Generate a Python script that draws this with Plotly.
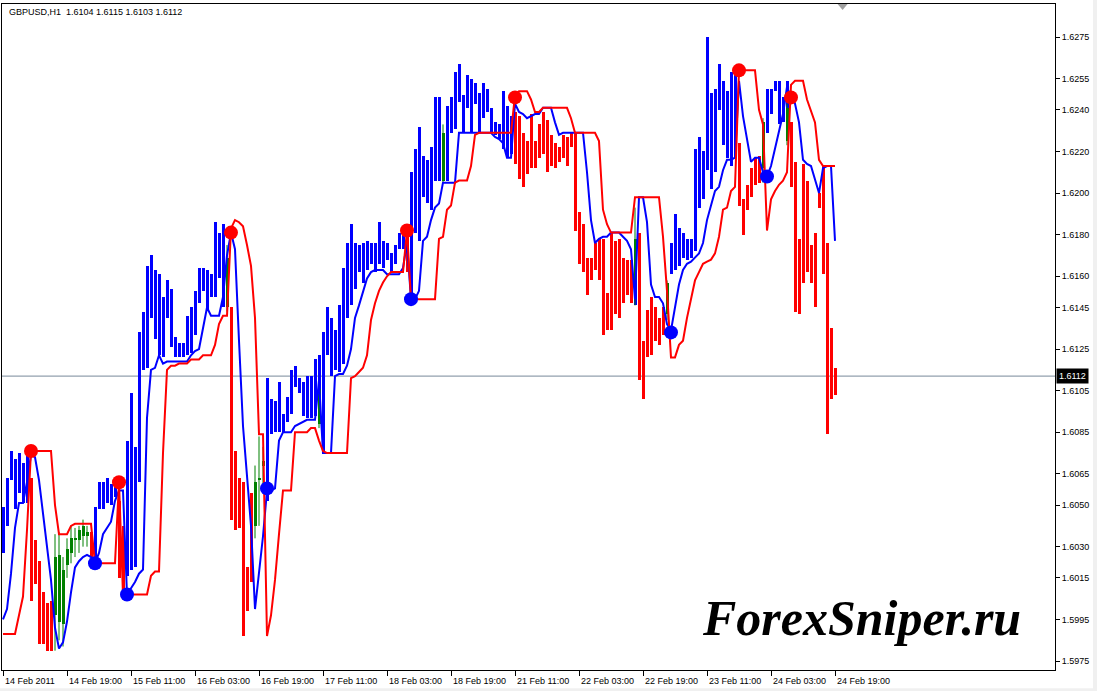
import plotly.graph_objects as go

# ---------------- data ----------------
symbol_title = "GBPUSD,H1  1.6104 1.6115 1.6103 1.6112"
last_price = 1.6112

tick_labels = ["14 Feb 2011", "14 Feb 19:00", "15 Feb 11:00", "16 Feb 03:00", "16 Feb 19:00",
               "17 Feb 11:00", "18 Feb 03:00", "18 Feb 19:00", "21 Feb 11:00", "22 Feb 03:00",
               "22 Feb 19:00", "23 Feb 11:00", "24 Feb 03:00", "24 Feb 19:00"]
tick_bars = [0, 16, 32, 48, 64, 80, 96, 112, 128, 144, 160, 176, 192, 208]

price_ticks = [1.5975, 1.5995, 1.6015, 1.6030, 1.6050, 1.6065, 1.6085, 1.6105, 1.6125,
               1.6145, 1.6160, 1.6180, 1.6200, 1.6220, 1.6240, 1.6255, 1.6275]

# b = blue histogram bar, r = red histogram bar, g = only a green price candle
bar_kind = ("bbbbbbbrrr" "rrrggggggg" "ggrbbbbbbr" "rbbbbbbbbb" "bbbbbbbbbb"
            "bbbbbbgrrr" "rrrgggbbbb" "bbbbbbbbbb" "bbbbbbbbbb" "bbbbbbbbbb"
            "brbbbbbbbb" "gbbbbbbbbb" "bbbbbbbbrr" "rrrrrrrrrr" "rrrrrrrrrr"
            "rrrrrrrrbr" "rrrrrrgbbb" "bbbbbbbbbb" "bbbbrrrrrr" "gbbbbbbrrr"
            "rrrrrrrrr")

bar_top = [
    1.6049, 1.6063, 1.6076, 1.6072, 1.6075, 1.6070, 1.6075, 1.6063, 1.6033, 1.6023,
    1.6008, 1.6003, 1.6004, None, None, None, None, None, None, None,
    None, None, 1.6037, 1.6049, 1.6061, 1.6061, 1.6063, 1.6060, 1.6062, 1.6052,
    1.6040, 1.6081, 1.6104, 1.6078, 1.6133, 1.6143, 1.6165, 1.6170, 1.6163, 1.6161,
    1.6150, 1.6158, 1.6154, 1.6131, 1.6128, 1.6128, 1.6141, 1.6145, 1.6153, 1.6164,
    1.6164, 1.6163, 1.6161, 1.6186, 1.6181, 1.6185, None, 1.6145, 1.6076, 1.6063,
    1.6061, 1.6020, 1.6056, None, None, None, 1.6111, 1.6101, 1.6100, 1.6109,
    1.6094, 1.6102, 1.6115, 1.6117, 1.6111, 1.6109, 1.6112, 1.6112, 1.6120, 1.6122,
    1.6133, 1.6145, 1.6140, 1.6134, 1.6146, 1.6164, 1.6176, 1.6185, 1.6176, 1.6175,
    1.6176, 1.6177, 1.6176, 1.6176, 1.6186, 1.6177, 1.6176, 1.6171, 1.6175, 1.6181,
    1.6180, 1.6179, 1.6210, 1.6221, 1.6232, 1.6218, 1.6216, 1.6222, 1.6246, 1.6246,
    None, 1.6242, 1.6246, 1.6258, 1.6262, 1.6247, 1.6257, 1.6255, 1.6253, 1.6248,
    1.6253, 1.6250, 1.6241, 1.6234, 1.6233, 1.6249, 1.6242, 1.6237, 1.6239, 1.6237,
    1.6229, 1.6225, 1.6238, 1.6225, 1.6233, 1.6239, 1.6235, 1.6228, 1.6224, 1.6222,
    1.6228, 1.6227, 1.6229, 1.6229, 1.6191, 1.6185, 1.6169, 1.6169, 1.6176, 1.6178,
    1.6178, 1.6152, 1.6181, 1.6177, 1.6178, 1.6169, 1.6168, 1.6168, 1.6158, 1.6181,
    1.6129, 1.6144, 1.6150, 1.6145, 1.6140, 1.6145, None, 1.6176, 1.6190, 1.6183,
    1.6181, 1.6178, 1.6178, 1.6221, 1.6227, 1.6220, 1.6275, 1.6248, 1.6250, 1.6262,
    1.6254, 1.6249, 1.6258, 1.6257, 1.6224, 1.6197, 1.6204, 1.6212, 1.6217, 1.6218,
    None, 1.6250, 1.6250, 1.6254, 1.6254, 1.6246, 1.6254, 1.6234, 1.6215, 1.6178,
    1.6214, 1.6206, 1.6175, 1.6181, 1.6200, 1.6213, 1.6176, 1.6135, 1.6116]

bar_bot = [
    1.6027, 1.6040, 1.6062, 1.6048, 1.6056, 1.6051, 1.6051, 1.6004, 1.6012, 1.5983,
    1.5983, 1.5980, 1.5980, None, None, None, None, None, None, None,
    None, None, 1.6025, 1.6024, 1.6048, 1.6048, 1.6051, 1.6050, 1.6054, 1.6015,
    1.6008, 1.6016, 1.6019, 1.6020, 1.6061, 1.6115, 1.6116, 1.6140, 1.6130, 1.6122,
    1.6121, 1.6140, 1.6126, 1.6121, 1.6121, 1.6121, 1.6122, 1.6123, 1.6132, 1.6147,
    1.6153, 1.6144, 1.6150, 1.6150, 1.6159, 1.6145, None, 1.6043, 1.6038, 1.6039,
    1.5987, 1.5999, 1.6013, None, None, None, 1.6052, 1.6084, 1.6085, 1.6085,
    1.6085, 1.6090, 1.6094, 1.6107, 1.6104, 1.6093, 1.6092, 1.6092, 1.6093, 1.6106,
    1.6075, 1.6122, 1.6112, 1.6115, 1.6114, 1.6118, 1.6140, 1.6146, 1.6154, 1.6162,
    1.6157, 1.6163, 1.6166, 1.6162, 1.6166, 1.6164, 1.6168, 1.6162, 1.6166, 1.6173,
    1.6173, 1.6162, 1.6150, 1.6181, 1.6177, 1.6198, 1.6195, 1.6192, 1.6206, 1.6206,
    None, 1.6206, 1.6229, 1.6231, 1.6244, 1.6229, 1.6241, 1.6229, 1.6243, 1.6229,
    1.6236, 1.6239, 1.6229, 1.6228, 1.6226, 1.6221, 1.6217, 1.6219, 1.6214, 1.6207,
    1.6203, 1.6209, 1.6212, 1.6212, 1.6217, 1.6219, 1.6210, 1.6213, 1.6212, 1.6215,
    1.6217, 1.6213, 1.6222, 1.6182, 1.6166, 1.6162, 1.6151, 1.6158, 1.6163, 1.6158,
    1.6132, 1.6134, 1.6134, 1.6142, 1.6140, 1.6147, 1.6151, 1.6147, 1.6146, 1.6110,
    1.6101, 1.6121, 1.6122, 1.6129, 1.6127, 1.6132, None, 1.6161, 1.6163, 1.6165,
    1.6169, 1.6168, 1.6169, 1.6172, 1.6193, 1.6197, 1.6211, 1.6202, 1.6210, 1.6240,
    1.6223, 1.6217, 1.6213, 1.6217, 1.6194, 1.6180, 1.6192, 1.6198, 1.6204, 1.6205,
    None, 1.6229, 1.6238, 1.6249, 1.6233, 1.6234, 1.6241, 1.6203, 1.6143, 1.6142,
    1.6157, 1.6162, 1.6157, 1.6145, 1.6193, 1.6161, 1.6084, 1.6101, 1.6103]

# green price candles that show through
green_bar = [13, 14, 15, 16, 17, 18, 19, 20, 21, 56, 63, 64, 65, 79, 110, 158, 166, 190, 196]
green_top = [1.6025, 1.6026, 1.6019, 1.6029, 1.6034, 1.6034, 1.6038, 1.6040, 1.6037, 1.6169,
             1.6061, 1.6063, 1.6071, 1.6106, 1.6229, 1.6178, 1.6157, 1.6234, 1.6241]
green_bot = [1.5997, 1.5994, 1.5993, 1.6021, 1.6027, 1.6033, 1.6033, 1.6035, 1.6035, 1.6145,
             1.6040, 1.6062, 1.6069, 1.6089, 1.6206, 1.6158, 1.6142, 1.6212, 1.6225]
green_high = [1.6036, 1.6037, 1.6025, 1.6034, 1.6040, 1.6039, 1.6040, 1.6043, 1.6040, 1.6175,
              1.6069, 1.6083, 1.6078, 1.6108, 1.6233, 1.6193, 1.6158, 1.6236, 1.6243]
green_low = [1.5980, 1.5985, 1.5982, 1.6015, 1.6022, 1.6025, 1.6027, 1.6030, 1.6030, 1.6143,
             1.6034, 1.6040, 1.6057, 1.6087, 1.6205, 1.6146, 1.6139, 1.6205, 1.6223]

blue_line = [
    1.5995, 1.6000, 1.6017, 1.6039, 1.6051, 1.6051, 1.6061, 1.6074, 1.6073, 1.6062,
    1.6046, 1.6030, 1.6014, 1.5991, 1.5981, 1.5984, 1.5994, 1.6008, 1.6020, 1.6023,
    1.6025, 1.6026, 1.6025, 1.6022, 1.6027, 1.6036, 1.6039, 1.6042, 1.6052, 1.6057,
    1.6057, 1.6007, 1.6010, 1.6013, 1.6017, 1.6019, 1.6092, 1.6115, 1.6116, 1.6122,
    1.6118, 1.6119, 1.6119, 1.6119, 1.6119, 1.6119, 1.6119, 1.6122, 1.6124, 1.6125,
    1.6136, 1.6145, 1.6141, 1.6141, 1.6141, 1.6150, 1.6170, 1.6181, 1.6173, 1.6129,
    1.6088, 1.6064, 1.6040, 1.6000, 1.6016, 1.6035, 1.6057, 1.6057, 1.6058, 1.6081,
    1.6085, 1.6085, 1.6085, 1.6088, 1.6089, 1.6090, 1.6091, 1.6091, 1.6091, 1.6110,
    1.6075, 1.6075, 1.6075, 1.6112, 1.6113, 1.6113, 1.6117, 1.6125, 1.6140, 1.6146,
    1.6152, 1.6159, 1.6162, 1.6163, 1.6163, 1.6163, 1.6161, 1.6161, 1.6161, 1.6161,
    1.6164, 1.6176, 1.6149, 1.6149, 1.6153, 1.6177, 1.6179, 1.6187, 1.6193, 1.6195,
    1.6205, 1.6205, 1.6205, 1.6205, 1.6229, 1.6229, 1.6229, 1.6229, 1.6229, 1.6229,
    1.6229, 1.6229, 1.6229, 1.6227, 1.6226, 1.6224, 1.6217, 1.6217, 1.6243, 1.6239,
    1.6238, 1.6236, 1.6237, 1.6238, 1.6238, 1.6241, 1.6241, 1.6241, 1.6234, 1.6228,
    1.6229, 1.6229, 1.6229, 1.6229, 1.6229, 1.6229, 1.6210, 1.6187, 1.6176, 1.6178,
    1.6179, 1.6179, 1.6181, 1.6181, 1.6181, 1.6179, 1.6177, 1.6173, 1.6149, 1.6198,
    1.6198, 1.6186, 1.6156, 1.6150, 1.6150, 1.6147, 1.6137, 1.6134, 1.6146, 1.6156,
    1.6163, 1.6166, 1.6167, 1.6169, 1.6171, 1.6176, 1.6187, 1.6194, 1.6201, 1.6203,
    1.6211, 1.6216, 1.6216, 1.6217, 1.6254, 1.6237, 1.6225, 1.6215, 1.6217, 1.6217,
    1.6210, 1.6208, 1.6213, 1.6221, 1.6229, 1.6238, 1.6251, 1.6246, 1.6243, 1.6234,
    1.6216, 1.6214, 1.6213, 1.6206, 1.6200, 1.6212, 1.6213, 1.6213, 1.6177]

red_line = [
    1.5988, 1.5988, 1.5988, 1.5988, 1.5997, 1.6006, 1.6038, 1.6076, 1.6076, 1.6076,
    1.6076, 1.6076, 1.6076, 1.6050, 1.6036, 1.6036, 1.6036, 1.6040, 1.6041, 1.6041,
    1.6041, 1.6041, 1.6041, 1.6022, 1.6022, 1.6022, 1.6022, 1.6022, 1.6022, 1.6061,
    1.6007, 1.6007, 1.6007, 1.6007, 1.6007, 1.6007, 1.6007, 1.6016, 1.6018, 1.6018,
    1.6075, 1.6115, 1.6117, 1.6117, 1.6118, 1.6118, 1.6118, 1.6120, 1.6120, 1.6120,
    1.6122, 1.6122, 1.6122, 1.6127, 1.6137, 1.6141, 1.6141, 1.6183, 1.6187, 1.6186,
    1.6184, 1.6175, 1.6165, 1.6140, 1.6084, 1.6084, 1.5987, 1.5997, 1.6014, 1.6036,
    1.6057, 1.6057, 1.6057, 1.6085, 1.6085, 1.6085, 1.6085, 1.6087, 1.6087, 1.6081,
    1.6076, 1.6075, 1.6075, 1.6075, 1.6075, 1.6075, 1.6075, 1.6111, 1.6112, 1.6114,
    1.6116, 1.6122, 1.6139, 1.6147, 1.6153, 1.6157, 1.6160, 1.6162, 1.6162, 1.6162,
    1.6162, 1.6182, 1.6149, 1.6149, 1.6149, 1.6149, 1.6149, 1.6149, 1.6149, 1.6178,
    1.6179, 1.6192, 1.6194, 1.6205, 1.6206, 1.6206, 1.6206, 1.6213, 1.6228, 1.6229,
    1.6229, 1.6229, 1.6229, 1.6229, 1.6229, 1.6229, 1.6229, 1.6229, 1.6247, 1.6249,
    1.6249, 1.6249, 1.6245, 1.6239, 1.6239, 1.6241, 1.6241, 1.6241, 1.6241, 1.6241,
    1.6241, 1.6241, 1.6236, 1.6229, 1.6229, 1.6229, 1.6229, 1.6229, 1.6229, 1.6225,
    1.6192, 1.6185, 1.6181, 1.6181, 1.6181, 1.6181, 1.6181, 1.6181, 1.6198, 1.6198,
    1.6198, 1.6198, 1.6198, 1.6198, 1.6198, 1.6179, 1.6153, 1.6121, 1.6121, 1.6127,
    1.6129, 1.6140, 1.6149, 1.6158, 1.6162, 1.6166, 1.6167, 1.6168, 1.6171, 1.6179,
    1.6192, 1.6193, 1.6201, 1.6203, 1.6259, 1.6259, 1.6259, 1.6259, 1.6259, 1.6240,
    1.6233, 1.6182, 1.6197, 1.6201, 1.6204, 1.6206, 1.6210, 1.6252, 1.6254, 1.6254,
    1.6254, 1.6245, 1.6239, 1.6234, 1.6216, 1.6213, 1.6213, 1.6213, 1.6213]

red_dot_bar = [7, 29, 57, 101, 128, 184, 197]
red_dot_price = [1.6076, 1.6061, 1.6181, 1.6182, 1.6246, 1.6259, 1.6246]
blue_dot_bar = [23, 31, 66, 102, 167, 191]
blue_dot_price = [1.6022, 1.6007, 1.6058, 1.6149, 1.6133, 1.6208]

# ---------------- styles ----------------
BLUE = "#0000FF"
RED = "#FF0000"
GREEN = "#008000"
UI_FONT = "Liberation Sans, Arial, sans-serif"
UI_SIZE = 9
kind_color = {"b": BLUE, "r": RED}

fig = go.Figure()

# green price candles (wick + body)
wick_x, wick_y = [], []
for i, hi, lo in zip(green_bar, green_high, green_low):
    wick_x += [i, i, None]
    wick_y += [hi, lo, None]
fig.add_trace(go.Scatter(x=wick_x, y=wick_y, mode="lines",
                         line=dict(color=GREEN, width=1), hoverinfo="skip"))
fig.add_trace(go.Bar(x=green_bar,
                     y=[max(t - b, 0.00005) for t, b in zip(green_top, green_bot)],
                     base=green_bot, width=0.75,
                     marker=dict(color=GREEN, line=dict(width=0))))

# histogram bars
hx, hh, hb, hc = [], [], [], []
for i, (k, t, b) in enumerate(zip(bar_kind, bar_top, bar_bot)):
    if t is None or k not in kind_color:
        continue
    hx.append(i)
    hh.append(max(t - b, 0.00005))
    hb.append(b)
    hc.append(kind_color[k])
fig.add_trace(go.Bar(x=hx, y=hh, base=hb, width=0.75,
                     marker=dict(color=hc, line=dict(width=0))))

# trailing lines
fig.add_trace(go.Scatter(x=list(range(len(blue_line))), y=blue_line, mode="lines",
                         line=dict(color=BLUE, width=2)))
fig.add_trace(go.Scatter(x=list(range(len(red_line))), y=red_line, mode="lines",
                         line=dict(color=RED, width=2)))

# signal dots
fig.add_trace(go.Scatter(x=red_dot_bar, y=red_dot_price, mode="markers",
                         marker=dict(color=RED, size=14, line=dict(width=0))))
fig.add_trace(go.Scatter(x=blue_dot_bar, y=blue_dot_price, mode="markers",
                         marker=dict(color=BLUE, size=14, line=dict(width=0))))

# current price line
fig.add_shape(type="line", xref="paper", x0=0, x1=1, yref="y", y0=last_price, y1=last_price,
              line=dict(color="#778899", width=1), layer="below")
fig.add_annotation(xref="paper", x=1, xanchor="left", xshift=1, yref="y", y=last_price,
                   text=f"{last_price:.4f}", showarrow=False, bgcolor="black",
                   font=dict(family=UI_FONT, size=UI_SIZE, color="white"), borderpad=2)

# time labels (left aligned after tick, like MT4)
for b, lab in zip(tick_bars, tick_labels):
    fig.add_annotation(xref="x", x=b, xanchor="left", xshift=0, yref="paper", y=0,
                       yanchor="top", yshift=-4, text=lab, showarrow=False,
                       font=dict(family=UI_FONT, size=UI_SIZE, color="black"))

# title
fig.add_annotation(xref="paper", x=0.0047, xanchor="left", yref="paper", y=0.988,
                   yanchor="middle", text=symbol_title, showarrow=False,
                   font=dict(family=UI_FONT, size=UI_SIZE, color="black"))

# watermark
fig.add_annotation(xref="paper", x=0.663, xanchor="left", yref="paper", y=0.078,
                   yanchor="middle", text="ForexSniper.ru", showarrow=False,
                   font=dict(family="Liberation Serif, Times New Roman, serif", size=50,
                             color="black", weight="bold", style="italic"))

# chart-shift marker and window edges
fig.add_shape(type="path", xref="paper", yref="paper",
              path="M 0.7935 1.0 L 0.8030 1.0 L 0.7983 0.991 Z",
              fillcolor="#A0A0A0", line=dict(width=0))
fig.add_shape(type="rect", xref="paper", yref="paper", x0=1.0361, x1=1.05, y0=-0.05, y1=1.01,
              fillcolor="#F0F0F0", line=dict(width=0))
fig.add_shape(type="rect", xref="paper", yref="paper", x0=-0.01, x1=1.05, y0=-0.05, y1=-0.0275,
              fillcolor="#F0F0F0", line=dict(width=0))

fig.update_layout(
    width=1097, height=691, autosize=False,
    margin=dict(l=2, r=42, t=4, b=21),
    paper_bgcolor="white", plot_bgcolor="white",
    showlegend=False, barmode="overlay", bargap=0,
    font=dict(family=UI_FONT, size=UI_SIZE, color="black"),
    hovermode=False,
)
fig.update_xaxes(range=[-0.25, 263], showgrid=False, zeroline=False,
                 showline=True, linecolor="black", linewidth=1, mirror=True,
                 ticks="outside", tickvals=tick_bars, ticklen=5, tickcolor="black",
                 tickwidth=1, showticklabels=False)
fig.update_yaxes(range=[1.59707, 1.62909], side="right", showgrid=False, zeroline=False,
                 showline=True, linecolor="black", linewidth=1, mirror=True,
                 ticks="outside", ticklen=4, tickcolor="black", tickwidth=1,
                 tickvals=price_ticks, ticktext=[f"{p:.4f}" for p in price_ticks],
                 tickfont=dict(family=UI_FONT, size=UI_SIZE, color="black"))

fig.write_html("out.html", config={"displayModeBar": False},
               post_script="document.body.style.margin='0px';document.body.style.overflow='hidden';")
